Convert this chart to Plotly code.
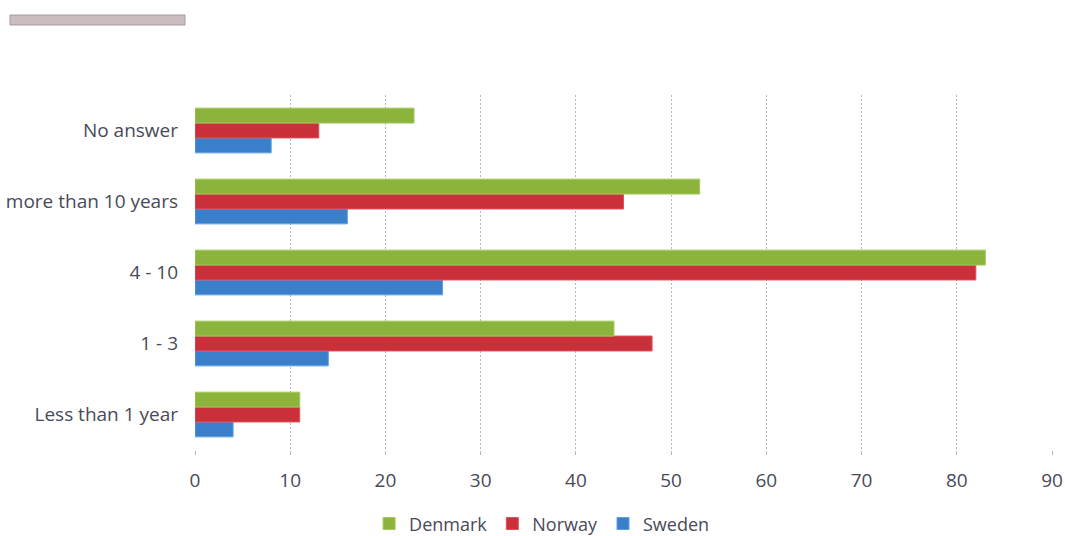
import plotly.graph_objects as go

categories = ["Less than 1 year", "1 - 3", "4 - 10", "more than 10 years", "No answer"]
denmark = [11, 44, 83, 53, 23]
norway = [11, 48, 82, 45, 13]
sweden = [4, 14, 26, 16, 8]
x_ticks = [0, 10, 20, 30, 40, 50, 60, 70, 80, 90]

TXT = "#484a58"

fig = go.Figure()
fig.add_trace(go.Bar(y=categories, x=sweden, name="Sweden", orientation="h",
                     marker=dict(color="#3b7fcb", line=dict(color="#5aa0e6", width=1))))
fig.add_trace(go.Bar(y=categories, x=norway, name="Norway", orientation="h",
                     marker=dict(color="#c9303a", line=dict(color="#e0505a", width=1))))
fig.add_trace(go.Bar(y=categories, x=denmark, name="Denmark", orientation="h",
                     marker=dict(color="#8cb33c", line=dict(color="#a3c85a", width=1))))

fig.update_layout(
    width=1065, height=536,
    barmode="group", bargap=0.37, bargroupgap=0,
    paper_bgcolor="white", plot_bgcolor="white",
    margin=dict(l=195, r=13, t=95, b=86, autoexpand=False),
    font=dict(family="Open Sans, sans-serif", size=19, color=TXT),
    legend=dict(orientation="h", traceorder="reversed", x=0.405, xanchor="center",
                y=-0.208, yanchor="middle", font=dict(size=18, color=TXT),
                itemwidth=30, tracegroupgap=0),
    xaxis=dict(range=[0, 90], tickvals=x_ticks, showgrid=True, gridcolor="#b4b8cc",
               griddash="2px,2px", gridwidth=1, zeroline=False, showline=False,
               ticks="outside", ticklen=4, tickcolor="#b4b8cc", automargin=False,
               ticklabelstandoff=9, tickfont=dict(size=19, color=TXT)),
    yaxis=dict(showgrid=False, zeroline=False, showline=False, ticks="",
               automargin=False, ticklabelstandoff=16,
               tickfont=dict(size=19, color=TXT)),
    shapes=[dict(type="rect", xref="paper", yref="paper",
                 x0=(10 - 195) / 857, x1=(185 - 195) / 857,
                 y0=1 + (95 - 25) / 355, y1=1 + (95 - 15) / 355,
                 fillcolor="#cbbcc0", line=dict(color="#a8989c", width=1))],
)

fig.write_html("out.html", config={"displayModeBar": False},
               post_script="document.body.style.margin='0px';document.body.style.overflow='hidden';")
